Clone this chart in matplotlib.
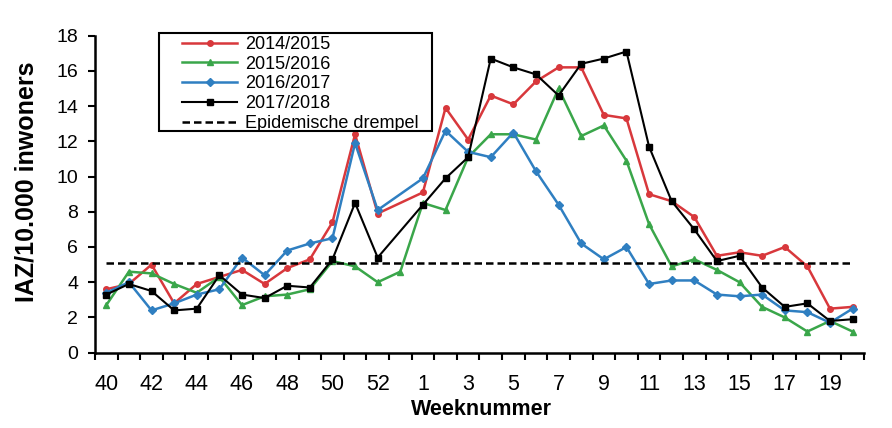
import numpy as np
from matplotlib import pyplot as plt
from matplotlib.patches import Rectangle

plt.rcParams['font.family'] = ['Liberation Sans', 'DejaVu Sans']

# week 53 only exists in season 2015/2016, the other seasons skip it (None)
weeks = [40, 41, 42, 43, 44, 45, 46, 47, 48, 49, 50, 51, 52, 53,
         1, 2, 3, 4, 5, 6, 7, 8, 9, 10, 11, 12, 13, 14, 15, 16, 17, 18, 19, 20]

iaz_1415 = [3.6, 3.9, 5.0, 2.8, 3.9, 4.3, 4.7, 3.9, 4.8, 5.3, 7.4, 12.4, 7.9, None,
            9.1, 13.9, 12.1, 14.6, 14.1, 15.4, 16.2, 16.2, 13.5, 13.3, 9.0, 8.6, 7.7, 5.5, 5.7, 5.5, 6.0, 4.9, 2.5, 2.6]
iaz_1516 = [2.7, 4.6, 4.5, 3.9, 3.4, 4.3, 2.7, 3.2, 3.3, 3.6, 5.2, 4.9, 4.0, 4.6,
            8.5, 8.1, 11.1, 12.4, 12.4, 12.1, 15.0, 12.3, 12.9, 10.9, 7.3, 4.9, 5.3, 4.7, 4.0, 2.6, 2.0, 1.2, 1.8, 1.2]
iaz_1617 = [3.4, 4.0, 2.4, 2.8, 3.3, 3.6, 5.4, 4.4, 5.8, 6.2, 6.5, 11.9, 8.1, None,
            9.9, 12.6, 11.4, 11.1, 12.5, 10.3, 8.4, 6.2, 5.3, 6.0, 3.9, 4.1, 4.1, 3.3, 3.2, 3.3, 2.4, 2.3, 1.7, 2.5]
iaz_1718 = [3.3, 3.9, 3.5, 2.4, 2.5, 4.4, 3.3, 3.1, 3.8, 3.7, 5.3, 8.5, 5.4, None,
            8.4, 9.9, 11.1, 16.7, 16.2, 15.8, 14.6, 16.4, 16.7, 17.1, 11.7, 8.6, 7.0, 5.2, 5.5, 3.7, 2.6, 2.8, 1.8, 1.9]
drempel = 5.1

seasons = ['2014/2015', '2015/2016', '2016/2017', '2017/2018']
series = [iaz_1415, iaz_1516, iaz_1617, iaz_1718]
colors = ['#d8383c', '#3aa64a', '#2f7fc1', '#000000']
markers = ['o', '^', 'D', 's']
msizes = [4, 5, 4, 4.5]
widths = [1.8, 1.8, 1.8, 1.5]

fig = plt.figure(figsize=(8.92, 4.28), dpi=100)
ax = fig.add_axes([0.1065, 0.176, 0.862, 0.7407])

x = np.arange(len(weeks))
for vals, label, c, m, ms, lw in zip(series, seasons, colors, markers, msizes, widths):
    keep = np.array([v is not None for v in vals])
    y = np.array([np.nan if v is None else v for v in vals], dtype=float)
    ax.plot(x[keep], y[keep], color=c, marker=m, markersize=ms, linewidth=lw, label=label)

ax.plot(x, [drempel] * len(x), color='black', linestyle=(0, (3, 1.6)), linewidth=1.8,
        label='Epidemische drempel')

ax.set_xlim(-0.5, len(weeks) - 0.5)
ax.set_ylim(0, 18)
ax.set_yticks(np.arange(0, 19, 2))

# ticks between the weeks, labels on every other week
ax.set_xticks(np.arange(-0.5, len(weeks), 1))
ax.set_xticklabels([])
ax.set_xticks(x[::2], minor=True)
ax.set_xticklabels([str(w) for w in weeks[::2]], minor=True)
ax.tick_params(axis='x', which='major', direction='out', length=5, width=1.5)
ax.tick_params(axis='x', which='minor', length=0, labelsize=15.5, pad=15)
ax.tick_params(axis='y', direction='out', length=5, width=1.5, labelsize=14, pad=7)

for side in ['top', 'right']:
    ax.spines[side].set_visible(False)
for side in ['left', 'bottom']:
    ax.spines[side].set_linewidth(1.8)

ax.set_xlabel('Weeknummer', fontsize=15.5, fontweight='bold')
ax.xaxis.set_label_coords(0.502, -0.146)
ax.set_ylabel('IAZ/10.000 inwoners', fontsize=18, fontweight='bold')
ax.yaxis.set_label_coords(-0.073, 0.54)

leg = ax.legend(loc='upper left', bbox_to_anchor=(182 / 892, 1 - 36 / 428),
                bbox_transform=fig.transFigure, fontsize=13, frameon=False,
                handlelength=3.05, labelspacing=0.15, borderpad=0, handletextpad=0.45,
                borderaxespad=0)
frame = Rectangle((159 / 892, 1 - 131 / 428), 273 / 892, 98 / 428, transform=fig.transFigure,
                  facecolor='white', edgecolor='black', linewidth=1.5, zorder=4, clip_on=False)
ax.add_patch(frame)

plt.savefig('out.png', dpi=100)
